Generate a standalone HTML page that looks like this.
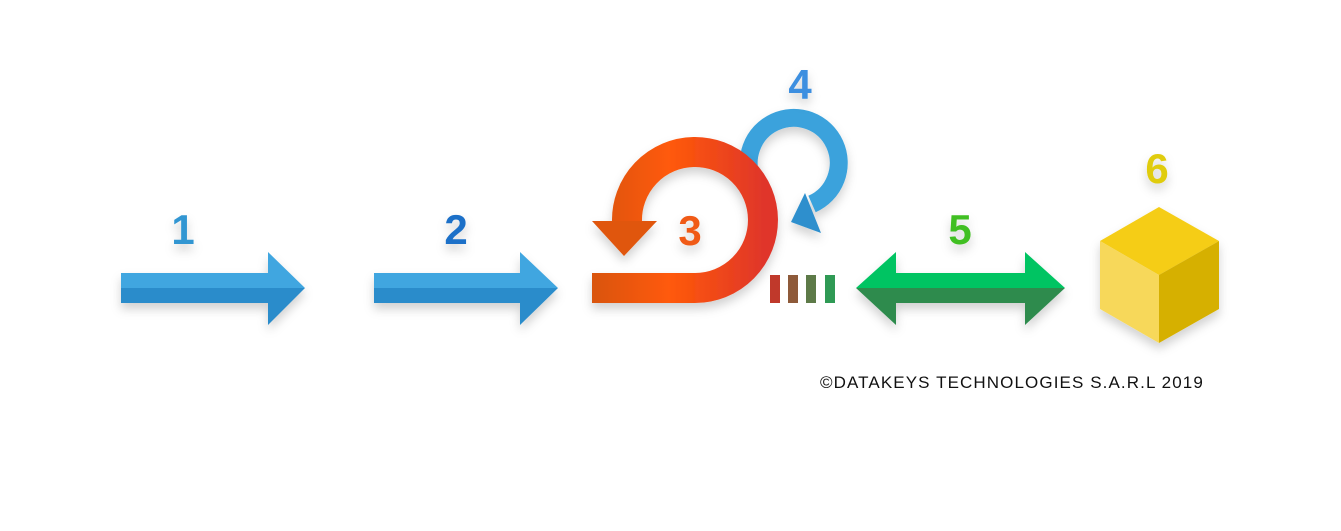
<!DOCTYPE html>
<html><head><meta charset="utf-8"><style>
html,body{margin:0;padding:0;background:#fff;width:1341px;height:531px;overflow:hidden}
svg text{font-family:"Liberation Sans",sans-serif;font-weight:bold}
</style></head><body>
<svg width="1341" height="531" viewBox="0 0 1341 531" xmlns="http://www.w3.org/2000/svg">
<defs>
<filter id="sh" x="-20%" y="-20%" width="140%" height="160%"><feDropShadow dx="0" dy="6" stdDeviation="5" flood-color="#000" flood-opacity="0.18"/></filter>
<linearGradient id="rg" x1="0" x2="1" y1="0" y2="0"><stop offset="0" stop-color="#d9540f"/><stop offset="0.45" stop-color="#ff5a08"/><stop offset="1" stop-color="#e0362a"/></linearGradient>
</defs>
<g filter="url(#sh)">
<polygon points="121,273 268,273 268,252 305,288 121,288" fill="#41a6e0"/>
<polygon points="121,288 305,288 268,325 268,303 121,303" fill="#2b8ccb"/>
</g>
<g filter="url(#sh)">
<polygon points="374,273 520,273 520,252 558,288 374,288" fill="#41a6e0"/>
<polygon points="374,288 558,288 520,325 520,303 374,303" fill="#2b8ccb"/>
</g>
<!-- blue loop -->
<g filter="url(#sh)">
<path d="M 753 182 A 45 45 0 1 1 812 204" fill="none" stroke="#3aa2dc" stroke-width="18"/>
<polygon points="791,222 805,193 821,233" fill="#2d8fcd"/>
</g>
<!-- red loop -->
<g filter="url(#sh)">
<path d="M 592 288 L 695 288 A 68 68 0 1 0 627 222" fill="none" stroke="url(#rg)" stroke-width="30"/>
<polygon points="592,221 657,221 624,256" fill="#e0560e"/>
</g>
<rect x="770" y="275" width="10" height="28" fill="#c0392b"/>
<rect x="788" y="275" width="10" height="28" fill="#8e5a3a"/>
<rect x="806" y="275" width="10" height="28" fill="#5d7a48"/>
<rect x="825" y="275" width="10" height="28" fill="#2f9a55"/>
<g filter="url(#sh)">
<polygon points="856,288 896,252 896,273 1025,273 1025,252 1065,288" fill="#00c462"/>
<polygon points="856,288 1065,288 1025,325 1025,303 896,303 896,325" fill="#2e8b4e"/>
</g>
<g filter="url(#sh)">
<polygon points="1159,207 1219,241 1159,275 1100,241" fill="#f5cd14"/>
<polygon points="1100,241 1159,275 1159,343 1100,309" fill="#f7d85a"/>
<polygon points="1219,241 1159,275 1159,343 1219,309" fill="#d6b000"/>
</g>
<g font-size="42" text-anchor="middle" filter="url(#sh)">
<text x="183" y="244" fill="#3296d2">1</text>
<text x="456" y="244" fill="#1a6fc8">2</text>
<text x="690" y="245" fill="#f05a14">3</text>
<text x="800" y="99" fill="#3d8fe0">4</text>
<text x="960" y="244" fill="#3fbf20">5</text>
<text x="1157" y="183" fill="#e0cc10">6</text>
</g>
<text x="820" y="388" font-size="17" fill="#111" letter-spacing="1.1" style="font-weight:normal">©DATAKEYS TECHNOLOGIES  S.A.R.L 2019</text>
</svg>
</body></html>
